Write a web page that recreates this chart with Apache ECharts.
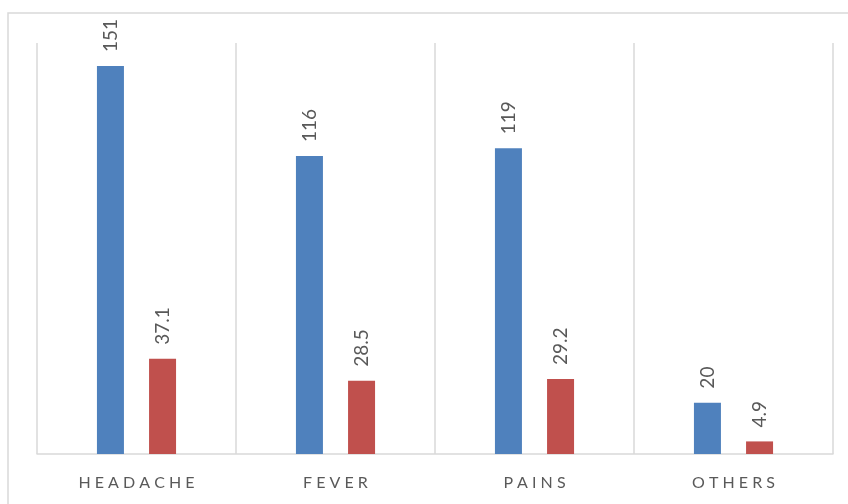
<!DOCTYPE html>
<html>
<head>
<meta charset="utf-8">
<script src="https://cdn.jsdelivr.net/npm/echarts@6/dist/echarts.min.js"></script>
<style>
  html, body { margin: 0; padding: 0; background: #ffffff; }
  #chart { width: 848px; height: 504px; }
</style>
</head>
<body>
<div id="chart"></div>
<script>
// Symptom categories and the two value series
const categories = ['HEADACHE', 'FEVER', 'PAINS', 'OTHERS'];
const countValues = [151, 116, 119, 20];
const percentValues = [37.1, 28.5, 29.2, 4.9];

const chart = echarts.init(document.getElementById('chart'), null, { renderer: 'canvas' });

// Spread the letters of an axis label apart
const spaced = s => s.split('').join(' ');

const valueLabel = {
  show: true,
  position: 'top',
  rotate: 90,
  align: 'left',
  verticalAlign: 'middle',
  distance: 14,
  color: '#595959',
  fontFamily: 'Lato',
  fontSize: 19
};

chart.setOption({
  animation: false,
  graphic: [{
    type: 'rect',
    shape: { x: 8, y: 13, width: 860, height: 520 },
    style: { fill: 'none', stroke: '#D9D9D9', lineWidth: 1.5 },
    silent: true
  }],
  grid: { left: 37, right: 15, top: 43, bottom: 50 },
  xAxis: {
    type: 'category',
    data: categories,
    axisLine: { show: true, lineStyle: { color: '#D9D9D9', width: 1.5 } },
    axisTick: { show: false },
    splitLine: { show: true, lineStyle: { color: '#D9D9D9', width: 1.5 } },
    axisLabel: {
      margin: 21,
      color: '#595959',
      fontFamily: 'Lato',
      fontSize: 16,
      formatter: v => spaced(v)
    }
  },
  yAxis: {
    type: 'value',
    min: 0,
    max: 160,
    show: false,
    splitLine: { show: false }
  },
  series: [
    {
      type: 'bar',
      data: countValues,
      barWidth: 27,
      barGap: '93%',
      itemStyle: { color: '#4F81BD' },
      label: valueLabel
    },
    {
      type: 'bar',
      data: percentValues,
      barWidth: 27,
      itemStyle: { color: '#C0504D' },
      label: valueLabel
    }
  ]
});
</script>
</body>
</html>
